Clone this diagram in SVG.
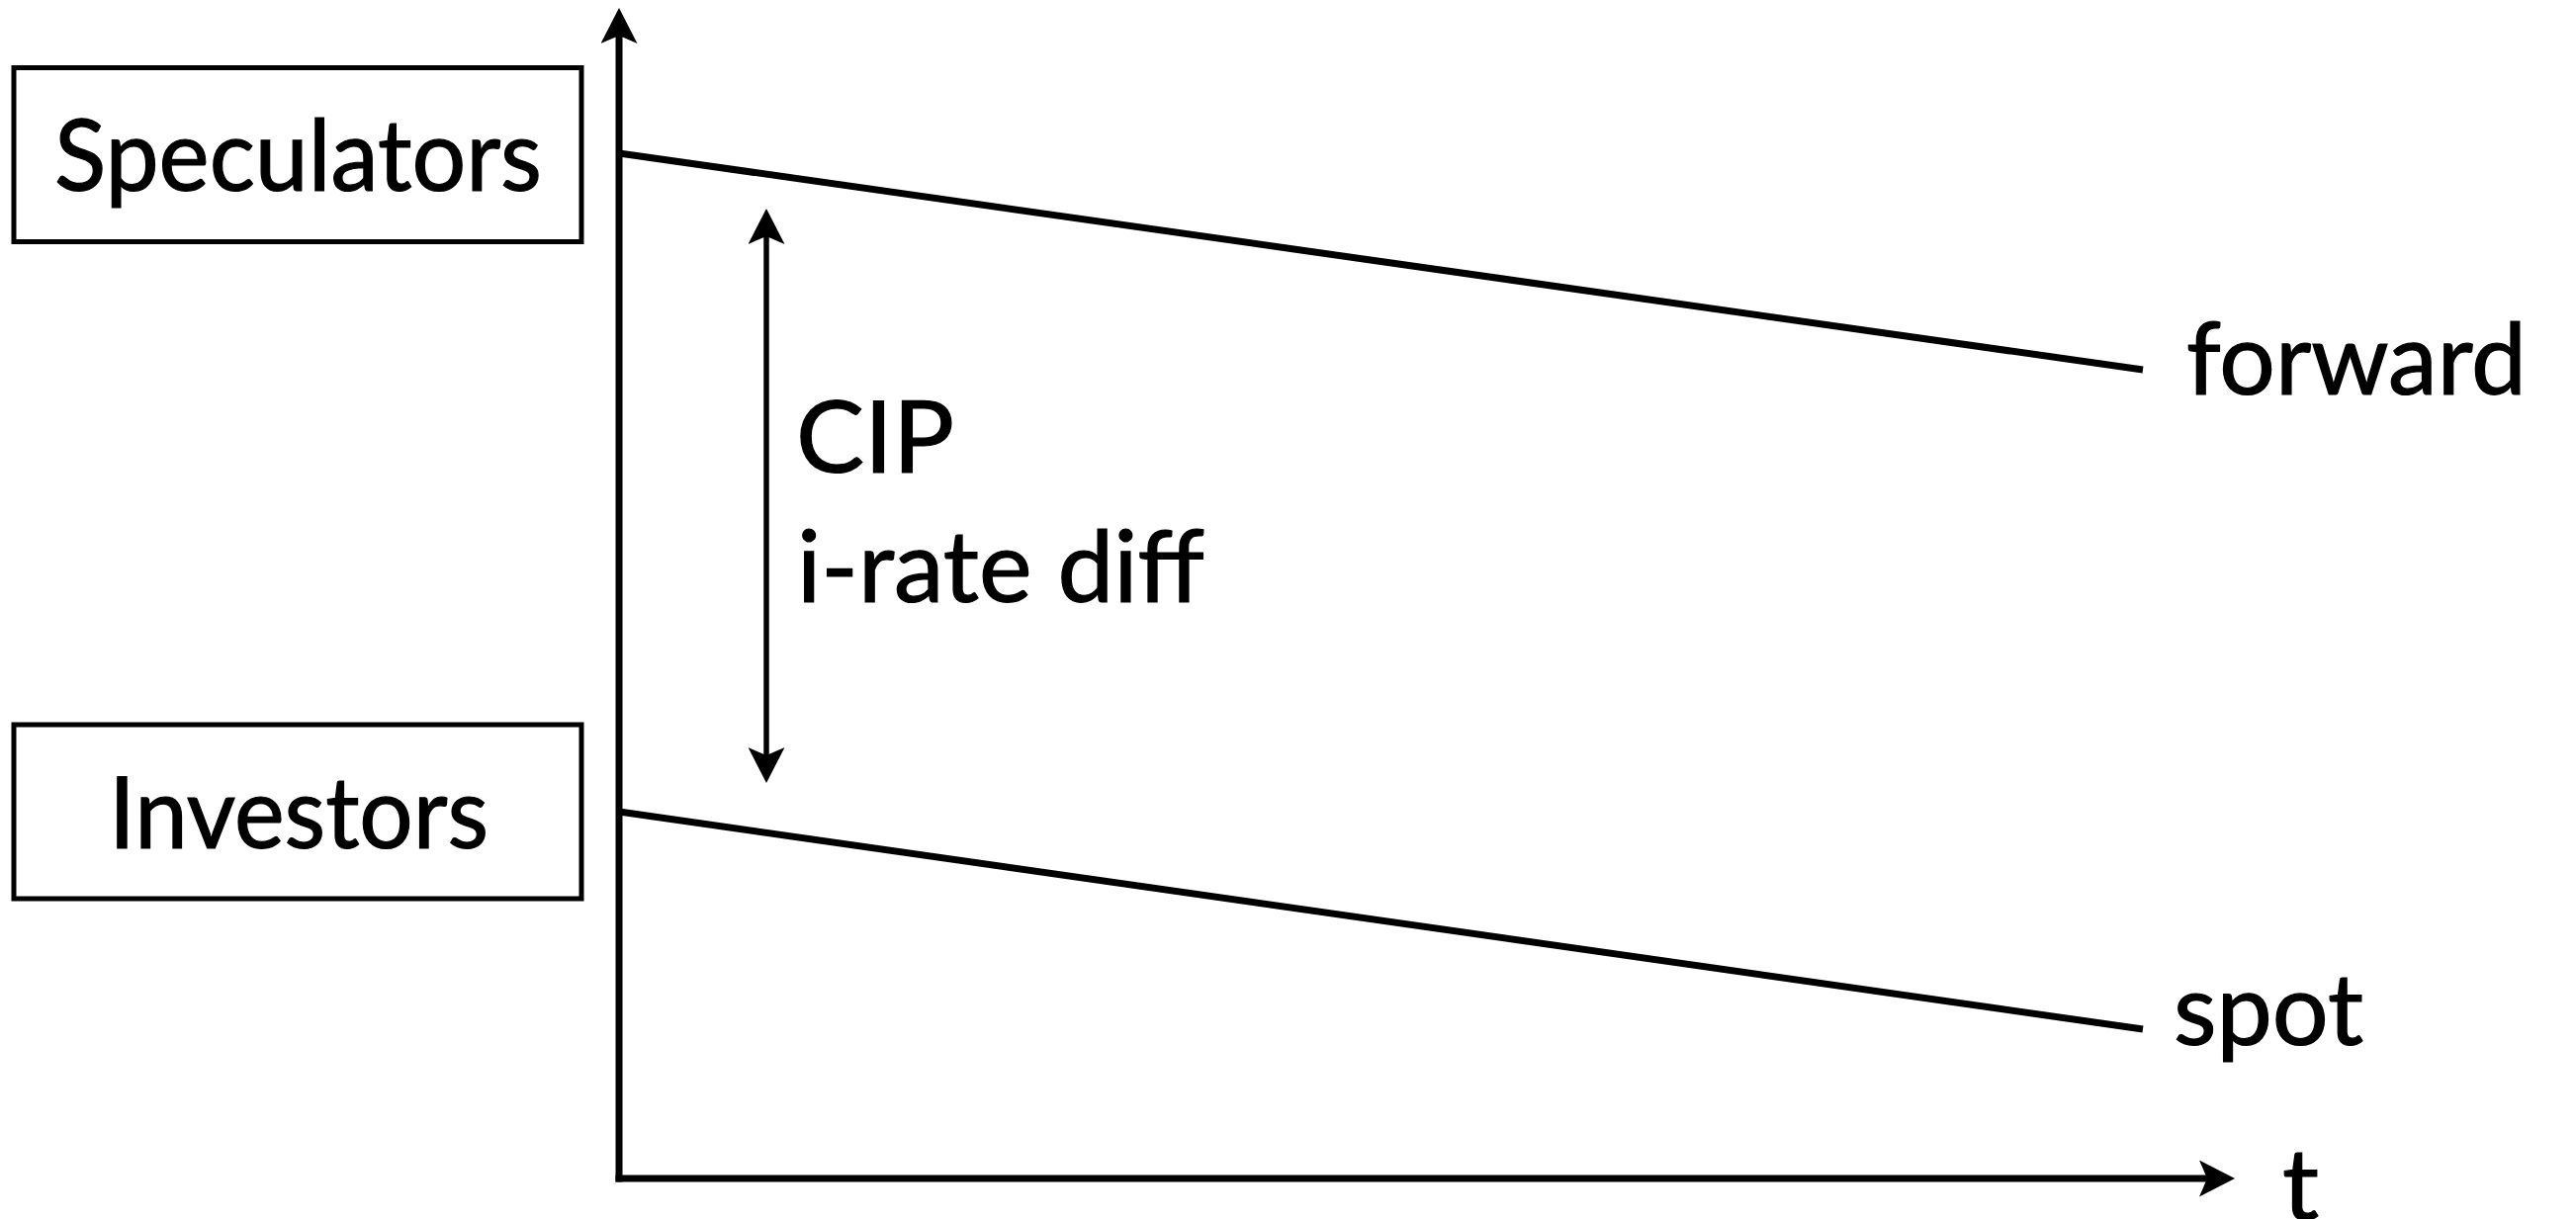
<svg xmlns="http://www.w3.org/2000/svg" width="2605" height="1233" viewBox="0 0 2605 1233">
  <style>
    .box { fill: #ffffff; stroke: #000000; stroke-width: 5; }
    .lbl { font-family: Lato, "Open Sans", "Liberation Sans", sans-serif; font-size: 100px; fill: #000000; stroke: #000000; stroke-width: 1.2; }
    .axis { stroke: #000000; stroke-width: 7; fill: none; }
    .curve { stroke: #000000; stroke-width: 7; fill: none; }
    .dbl { stroke: #000000; stroke-width: 5.5; fill: none; }
  </style>
  <defs>
    <marker id="arr" markerUnits="userSpaceOnUse" viewBox="0 0 36 37" refX="26" refY="18.5" markerWidth="36" markerHeight="37" orient="auto-start-reverse">
      <path d="M0,0 L36,18.5 L0,37 L8,18.5 Z" fill="#000000"/>
    </marker>
  </defs>
  <rect width="2605" height="1233" fill="#ffffff"/>

  <g id="speculators">
    <rect class="box" x="14" y="68.5" width="574" height="176"/>
    <text class="lbl" x="55" y="193" textLength="493" lengthAdjust="spacingAndGlyphs">Speculators</text>
  </g>

  <g id="investors">
    <rect class="box" x="14" y="733" width="574" height="176"/>
    <text class="lbl" x="110" y="858" textLength="384" lengthAdjust="spacingAndGlyphs">Investors</text>
  </g>

  <g id="connectors">
    <line class="axis" x1="626" y1="1195.5" x2="626" y2="18" marker-end="url(#arr)"/>
    <line class="axis" x1="622.5" y1="1192" x2="2250" y2="1192" marker-end="url(#arr)"/>
    <line class="curve" x1="626" y1="155" x2="2167" y2="374"/>
    <line class="curve" x1="626" y1="821" x2="2167" y2="1041"/>
    <line class="dbl" x1="775" y1="221" x2="775" y2="782" marker-start="url(#arr)" marker-end="url(#arr)"/>
  </g>

  <g id="labels">
    <text class="lbl" x="805" y="478" font-size="106" textLength="160" lengthAdjust="spacingAndGlyphs">CIP</text>
    <text class="lbl" x="806" y="609" textLength="412" lengthAdjust="spacingAndGlyphs">i-rate diff</text>
    <text class="lbl" x="2211" y="399" textLength="344" lengthAdjust="spacingAndGlyphs">forward</text>
    <text class="lbl" x="2198" y="1057" textLength="192" lengthAdjust="spacingAndGlyphs">spot</text>
    <text class="lbl" x="2308" y="1234" textLength="37" lengthAdjust="spacingAndGlyphs">t</text>
  </g>
</svg>
